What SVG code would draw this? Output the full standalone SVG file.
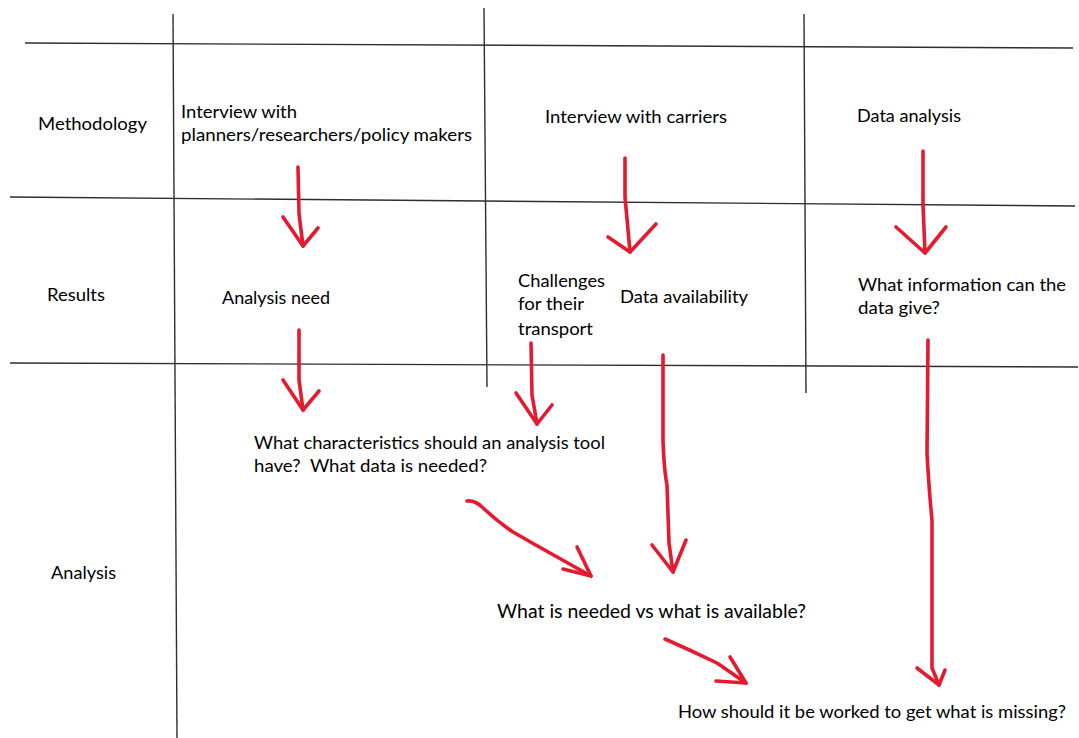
<svg xmlns="http://www.w3.org/2000/svg" width="1079" height="738" viewBox="0 0 1079 738">
  <style>
    .grid { fill: none; stroke: #2e2e2e; stroke-width: 1.4; }
    .lbl { font-family: Lato, "Open Sans", "Liberation Sans", sans-serif; font-size: 18px; fill: #000; }
    .big { font-size: 19.5px; }
    .pen { fill: none; stroke: #e51a2e; stroke-width: 3.6; stroke-linecap: round; stroke-linejoin: round; }
  </style>
  <rect width="1079" height="738" fill="#ffffff"/>

  <!-- hand-drawn table grid -->
  <g id="grid">
    <polyline class="grid" points="25,43 1073,48"/>
    <polyline class="grid" points="10,197 484,201 1075,206"/>
    <polyline class="grid" points="10,363 1078,367"/>
    <polyline class="grid" points="173,14 177,738"/>
    <polyline class="grid" points="484,8 487,387"/>
    <polyline class="grid" points="804,14 806,393"/>
  </g>

  <!-- row headings -->
  <g id="row-methodology"><text class="lbl" x="38" y="130" textLength="109" lengthAdjust="spacingAndGlyphs">Methodology</text></g>
  <g id="row-results"><text class="lbl" x="47" y="301" textLength="58" lengthAdjust="spacingAndGlyphs">Results</text></g>
  <g id="row-analysis"><text class="lbl" x="51" y="579" textLength="65" lengthAdjust="spacingAndGlyphs">Analysis</text></g>

  <!-- methodology cells -->
  <g id="interview-planners">
    <text class="lbl" x="181" y="118" textLength="116" lengthAdjust="spacingAndGlyphs">Interview with</text>
    <text class="lbl" x="181" y="141" textLength="291" lengthAdjust="spacingAndGlyphs">planners/researchers/policy makers</text>
  </g>
  <g id="interview-carriers"><text class="lbl" x="545" y="123" textLength="182" lengthAdjust="spacingAndGlyphs">Interview with carriers</text></g>
  <g id="data-analysis"><text class="lbl" x="857" y="122" textLength="104" lengthAdjust="spacingAndGlyphs">Data analysis</text></g>

  <!-- results cells -->
  <g id="analysis-need"><text class="lbl" x="222" y="304" textLength="108" lengthAdjust="spacingAndGlyphs">Analysis need</text></g>
  <g id="challenges">
    <text class="lbl" x="518" y="287" textLength="87" lengthAdjust="spacingAndGlyphs">Challenges</text>
    <text class="lbl" x="518" y="310" textLength="66" lengthAdjust="spacingAndGlyphs">for their</text>
    <text class="lbl" x="518" y="335" textLength="75" lengthAdjust="spacingAndGlyphs">transport</text>
  </g>
  <g id="data-availability"><text class="lbl" x="620" y="303" textLength="128" lengthAdjust="spacingAndGlyphs">Data availability</text></g>
  <g id="data-information">
    <text class="lbl" x="858" y="291" textLength="208" lengthAdjust="spacingAndGlyphs">What information can the</text>
    <text class="lbl" x="858" y="314" textLength="82" lengthAdjust="spacingAndGlyphs">data give?</text>
  </g>

  <!-- analysis cells -->
  <g id="tool-characteristics">
    <text class="lbl" x="254" y="449" textLength="351" lengthAdjust="spacingAndGlyphs">What characteristics should an analysis tool</text>
    <text class="lbl" x="254" y="472" textLength="233" lengthAdjust="spacingAndGlyphs" xml:space="preserve">have?  What data is needed?</text>
  </g>
  <g id="needed-vs-available"><text class="lbl big" x="497" y="618" textLength="309" lengthAdjust="spacingAndGlyphs">What is needed vs what is available?</text></g>
  <g id="get-missing"><text class="lbl" x="678" y="718" textLength="388" lengthAdjust="spacingAndGlyphs">How should it be worked to get what is missing?</text></g>

  <!-- red pen arrows -->
  <g id="connectors">
    <path class="pen" d="M298,167 L299,214 L303,246"/>
    <path class="pen" d="M283,217 L303,246 L318,228"/>

    <path class="pen" d="M299,330 L299,380 L303,410"/>
    <path class="pen" d="M283,380 L303,410 L319,391"/>

    <path class="pen" d="M531,343 L532,395 L537,424"/>
    <path class="pen" d="M516,393 L537,424 L552,405"/>

    <path class="pen" d="M625,158 L625,197 L630,252"/>
    <path class="pen" d="M608,237 L630,252 L656,224"/>

    <path class="pen" d="M923,151 L923,205 L925,253"/>
    <path class="pen" d="M896,227 L925,253 L946,227"/>

    <path class="pen" d="M663,355 L663,440 Q664,470 667,485 L669,543 L673,572"/>
    <path class="pen" d="M652,545 L673,572 L686,540"/>

    <path class="pen" d="M928,340 L927,453 Q929,490 932,520 L932,647 L932,668 L939,685"/>
    <path class="pen" d="M917,668 L939,685 L945,670"/>

    <path class="pen" d="M467,501 Q475,500 482,507 Q498,522 513,532 Q532,543 550,553 L591,576"/>
    <path class="pen" d="M577,547 L591,576 L563,569"/>

    <path class="pen" d="M665,639 Q690,650 717,663 L746,683"/>
    <path class="pen" d="M730,657 L746,683 L716,681"/>
  </g>
</svg>
